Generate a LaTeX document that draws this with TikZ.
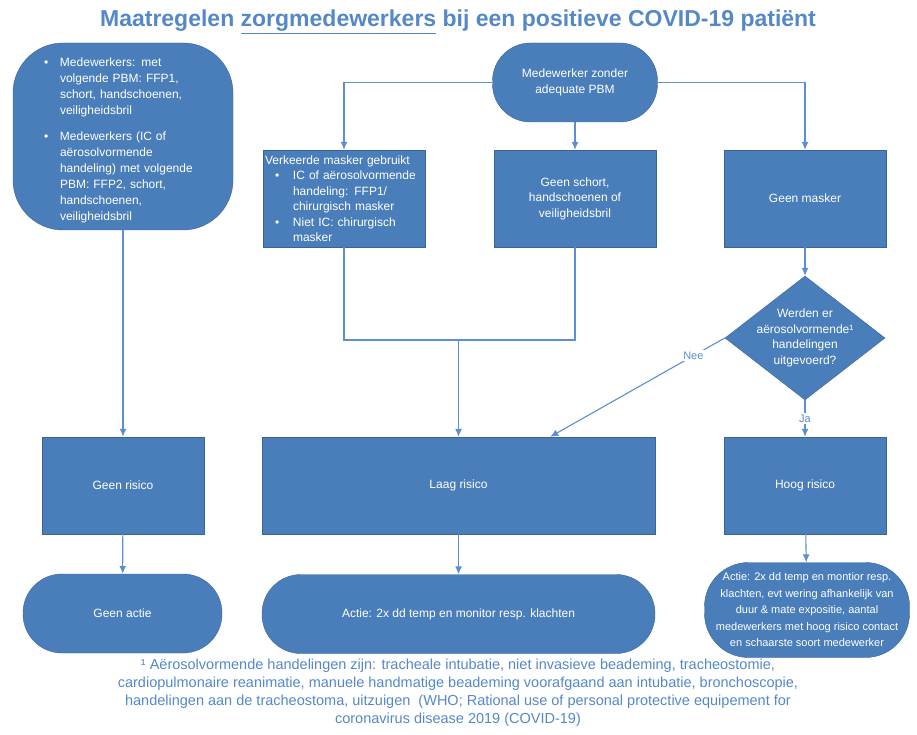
\documentclass[tikz,border=0pt]{standalone}
\usepackage{fontspec}
\setmainfont{Liberation Sans}
\usetikzlibrary{arrows.meta, shapes.geometric}
\definecolor{boxblue}{RGB}{74,126,187}
\definecolor{edgeblue}{RGB}{58,100,152}
\definecolor{lineblue}{RGB}{91,143,208}
\definecolor{titleblue}{RGB}{84,136,200}
\newcommand{\pbmitem}[3]{\par\hangindent=#1\hangafter=1\noindent\makebox[#1][l]{\hspace{#2}\textbullet}#3\par}
\tikzset{
    box/.style={rectangle, fill=boxblue, draw=edgeblue, text=white, align=center,
        inner sep=2pt, font=\fontsize{12}{15.5}\selectfont},
    stepbox/.style={box, minimum width=162pt, minimum height=97pt},
    actbox/.style={box, minimum height=79pt, rounded corners=39pt},
    decision/.style={box, diamond, aspect=1.29, inner sep=-3pt,
        minimum width=160pt, minimum height=124pt},
    flow/.style={draw=lineblue, line width=1.1pt, -{Latex[length=8pt, width=7pt]}},
    link/.style={draw=lineblue, line width=1.1pt},
    lbl/.style={fill=white, text=lineblue, inner sep=1.5pt, font=\fontsize{11}{13}\selectfont},
}
\begin{document}
\begin{tikzpicture}[x=1pt, y=-1pt]
    \useasboundingbox (0,0) rectangle (917,735);
    % Title
    \node[text=titleblue, font=\fontsize{23}{27}\selectfont\bfseries] (title) at (458,22)
        {Maatregelen \underline{zorgmedewerkers} bij een positieve COVID-19 patiënt};
    % Top row
    \node[box, rounded corners=50pt, minimum width=220pt, minimum height=187pt,
        text width=158pt, align=left, font=\fontsize{12}{16}\selectfont] (medew) at (123,136.5) {%
        \pbmitem{16pt}{0pt}{Medewerkers: met\newline volgende PBM: FFP1,\newline schort, handschoenen,\newline veiligheidsbril}
        \vspace{10pt}
        \pbmitem{16pt}{0pt}{Medewerkers (IC of\newline aërosolvormende\newline handeling) met volgende\newline PBM: FFP2, schort,\newline handschoenen,\newline veiligheidsbril}};
    \node[box, minimum width=165pt, minimum height=79pt, rounded corners=38pt] (zonder) at (575,82.5)
        {Medewerker zonder\\ adequate PBM};
    % Second row
    \node[stepbox, text width=158pt, align=left] (verkeerd) at (344,198.5) {%
        Verkeerde masker gebruikt
        \pbmitem{28pt}{10pt}{IC of aërosolvormende\newline handeling: FFP1/\newline chirurgisch masker}
        \pbmitem{28pt}{10pt}{Niet IC: chirurgisch\newline masker}};
    \node[stepbox] (schort) at (575,198.5) {Geen schort,\\ handschoenen of\\ veiligheidsbril};
    \node[stepbox] (masker) at (805,198.5) {Geen masker};
    \node[decision] (aerosol) at (805,338) {Werden er\\ aërosolvormende¹\\ handelingen\\ uitgevoerd?};
    % Risk row
    \node[stepbox] (geenrisico) at (123,485.5) {Geen risico};
    \node[stepbox, minimum width=393pt] (laag) at (458.5,485.5) {Laag risico};
    \node[stepbox] (hoog) at (805,485.5) {Hoog risico};
    % Actions
    \node[actbox, minimum width=199pt] (geenactie) at (122.5,613.5) {Geen actie};
    \node[actbox, minimum width=393pt] (laagactie) at (458.5,614) {Actie: 2x dd temp en monitor resp. klachten};
    \node[actbox, minimum width=205pt, minimum height=95pt, rounded corners=44pt,
        font=\fontsize{11}{16.5}\selectfont] (hoogactie) at (807,610)
        {Actie: 2x dd temp en montior resp.\\ klachten, evt wering afhankelijk van\\ duur \& mate expositie, aantal\\
         medewerkers met hoog risico contact\\ en schaarste soort medewerker};
    % Footnote
    \node[text=titleblue, align=center, font=\fontsize{14.5}{18}\selectfont] (voetnoot) at (458,693)
        {¹ Aërosolvormende handelingen zijn: tracheale intubatie, niet invasieve beademing, tracheostomie,\\
         cardiopulmonaire reanimatie, manuele handmatige beademing voorafgaand aan intubatie, bronchoscopie,\\
         handelingen aan de tracheostoma, uitzuigen~~(WHO; Rational use of personal protective equipement for\\
         coronavirus disease 2019 (COVID-19)};
    % Connectors
    \coordinate (samen) at (458.5,340);
    \draw[flow] (medew) -- (geenrisico);
    \draw[flow] (zonder.west) -| (verkeerd.north);
    \draw[flow] (zonder) -- (schort);
    \draw[flow] (zonder.east) -| (masker.north);
    \draw[link] (verkeerd.south) |- (samen) -| (schort.south);
    \draw[flow] (samen) -- (laag);
    \draw[flow] (masker) -- (aerosol);
    \draw[flow] (aerosol.west) -- node[lbl, pos=0.18] {Nee} ([xshift=-105pt]laag.north east);
    \draw[flow] (aerosol.south) -- node[lbl] {Ja} (hoog.north);
    \draw[flow] (geenrisico) -- (geenactie);
    \draw[flow] (laag) -- (laagactie);
    \draw[flow] (hoog) -- (hoogactie);
\end{tikzpicture}
\end{document}
